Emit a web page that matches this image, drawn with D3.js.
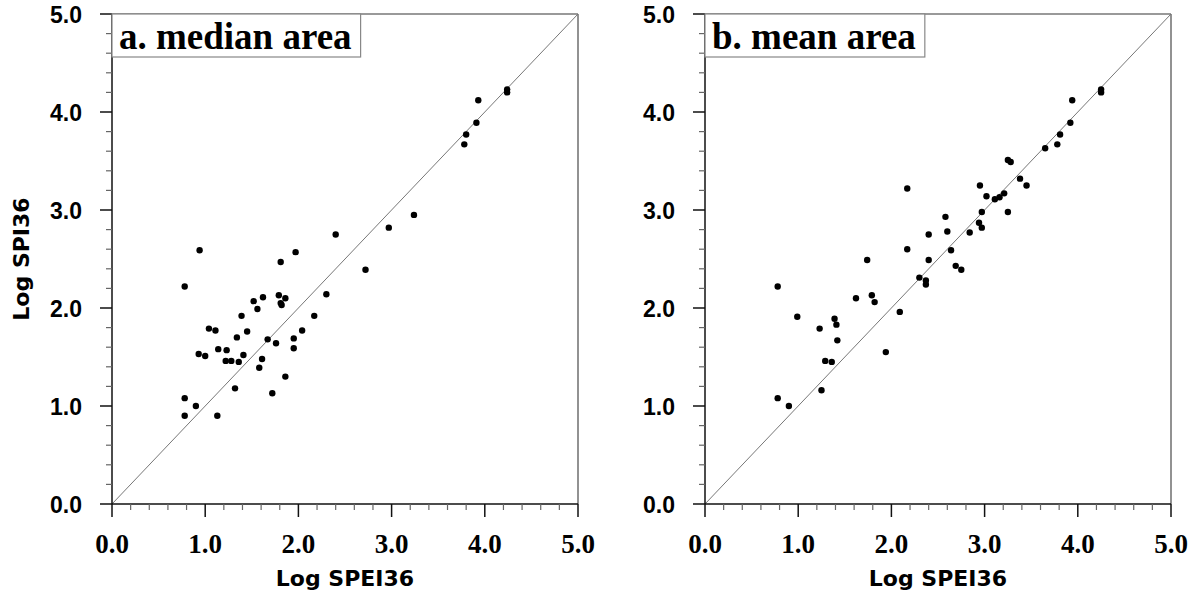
<!DOCTYPE html>
<html><head><meta charset="utf-8">
<script src="https://cdn.jsdelivr.net/npm/d3@7"></script>
<style>body{margin:0;background:#fff}svg{display:block}</style>
</head><body>
<svg id="c" width="1197" height="596"></svg>
<script>
// ---- data ----
const medianX = [0.78,0.94,2.40,2.97,1.97,1.81,2.72,2.30,1.62,1.52,1.79,1.86,1.81,1.82,1.56,1.39,2.17,1.04,1.11,2.04,1.34,1.45,1.67,1.76,1.95,1.95,1.14,1.23,0.93,1.00,1.41,1.22,1.28,1.36,1.61,1.58,1.86,1.32,1.72,0.78,0.90,0.78,1.13,4.24,4.24,3.93,3.91,3.80,3.78,3.24];
const medianY = [2.22,2.59,2.75,2.82,2.57,2.47,2.39,2.14,2.11,2.07,2.13,2.10,2.05,2.03,1.99,1.92,1.92,1.79,1.77,1.77,1.70,1.76,1.68,1.64,1.69,1.59,1.58,1.57,1.53,1.51,1.52,1.46,1.46,1.45,1.48,1.39,1.30,1.18,1.13,1.08,1.00,0.90,0.90,4.23,4.20,4.12,3.89,3.77,3.67,2.95];
const meanX = [0.78,2.17,2.95,3.02,2.97,2.58,2.60,2.40,2.84,2.94,2.97,2.17,2.64,1.74,2.40,2.69,2.75,2.30,2.37,2.37,1.62,1.79,1.82,2.09,0.99,1.39,1.41,1.23,1.42,1.94,1.29,1.36,1.25,0.78,0.90,4.25,4.25,3.94,3.92,3.81,3.78,3.65,3.25,3.28,3.38,3.45,3.11,3.16,3.21,3.25];
const meanY = [2.22,3.22,3.25,3.14,2.98,2.93,2.78,2.75,2.77,2.87,2.82,2.60,2.59,2.49,2.49,2.43,2.39,2.31,2.28,2.24,2.10,2.13,2.06,1.96,1.91,1.89,1.83,1.79,1.67,1.55,1.46,1.45,1.16,1.08,1.00,4.23,4.20,4.12,3.89,3.77,3.67,3.63,3.51,3.49,3.32,3.25,3.11,3.13,3.17,2.98];
const majorTicks = [0,1,2,3,4,5];
const panelTitles = ["a. median area","b. mean area"];
const xTitle = "Log SPEI36";
const yTitle = "Log SPI36";

const svg = d3.select("#c");
const fmt = d3.format(".1f");
const y = d3.scaleLinear().domain([0,5]).range([504,14]);
const minorTicks = d3.range(0,5.0001,0.2).map(v=>+v.toFixed(1));

function panel(x0, x1, xs, ys, title, showYTitle){
  const x = d3.scaleLinear().domain([0,5]).range([x0,x1]);
  const g = svg.append("g");
  // frame top/right
  g.append("line").attr("x1",x(0)).attr("x2",x(5)).attr("y1",y(5)).attr("y2",y(5)).attr("stroke","#777").attr("stroke-width",1.6);
  g.append("line").attr("x1",x(5)).attr("x2",x(5)).attr("y1",y(5)).attr("y2",y(0)).attr("stroke","#777").attr("stroke-width",1.6);
  // diagonal
  g.append("line").attr("x1",x(0)).attr("y1",y(0)).attr("x2",x(5)).attr("y2",y(5)).attr("stroke","#777").attr("stroke-width",1);
  // x axis
  const xa = g.append("g").attr("transform",`translate(0,${y(0)})`);
  xa.append("line").attr("x1",x(0)).attr("x2",x(5)).attr("stroke","#111").attr("stroke-width",1.5);
  xa.selectAll(".mn").data(minorTicks).join("line").attr("x1",d=>x(d)).attr("x2",d=>x(d))
    .attr("y1",0).attr("y2",d=>Number.isInteger(d)?13:6).attr("stroke",d=>Number.isInteger(d)?"#111":"#666").attr("stroke-width",d=>Number.isInteger(d)?1.5:1.2);
  xa.selectAll(".lb").data(majorTicks).join("text").attr("x",d=>x(d)).attr("y",49)
    .attr("text-anchor","middle").attr("font-family","'Liberation Serif', 'Times New Roman', serif")
    .attr("font-weight","bold").attr("font-size",27).text(d=>fmt(d));
  xa.append("text").attr("x",(x(0)+x(5))/2).attr("y",82).attr("text-anchor","middle")
    .attr("font-family","'DejaVu Sans', sans-serif").attr("font-weight","bold").attr("font-size",22).text(xTitle);
  // y axis
  const ya = g.append("g").attr("transform",`translate(${x(0)},0)`);
  ya.append("line").attr("y1",y(0)).attr("y2",y(5)).attr("stroke","#111").attr("stroke-width",1.5);
  ya.selectAll(".mn").data(minorTicks).join("line").attr("y1",d=>y(d)).attr("y2",d=>y(d))
    .attr("x1",0).attr("x2",d=>Number.isInteger(d)?-12:-6).attr("stroke",d=>Number.isInteger(d)?"#111":"#666").attr("stroke-width",d=>Number.isInteger(d)?1.5:1.2);
  ya.selectAll(".lb").data(majorTicks).join("text").attr("x",-30).attr("y",d=>y(d)+1).attr("dy","0.36em")
    .attr("text-anchor","end").attr("font-family","'Liberation Sans', Arial, sans-serif").attr("font-weight","bold")
    .attr("font-size",23).text(d=>fmt(d));
  if(showYTitle){
    svg.append("text").attr("transform",`translate(29,${(y(0)+y(5))/2}) rotate(-90)`).attr("text-anchor","middle")
      .attr("font-family","'DejaVu Sans', sans-serif").attr("font-weight","bold").attr("font-size",22).text(yTitle);
  }
  // points
  g.selectAll("circle").data(xs.map((v,i)=>[v,ys[i]])).join("circle")
    .attr("cx",d=>x(d[0])).attr("cy",d=>y(d[1])).attr("r",3.2).attr("fill","#000");
  // title box
  const tg = g.append("g");
  const t = tg.append("text").attr("x",x(0)+7).attr("y",49).attr("font-family","'Liberation Serif', 'Times New Roman', serif")
    .attr("font-weight","bold").attr("font-size",37).text(title);
  const w = t.node().getComputedTextLength();
  tg.insert("rect","text").attr("x",x(0)).attr("y",y(5)).attr("width",w+16).attr("height",43)
    .attr("fill","#fff").attr("stroke","#888").attr("stroke-width",1.2);
}
panel(112,578,medianX,medianY,panelTitles[0],true);
panel(705,1171,meanX,meanY,panelTitles[1],false);
</script>
</body></html>
